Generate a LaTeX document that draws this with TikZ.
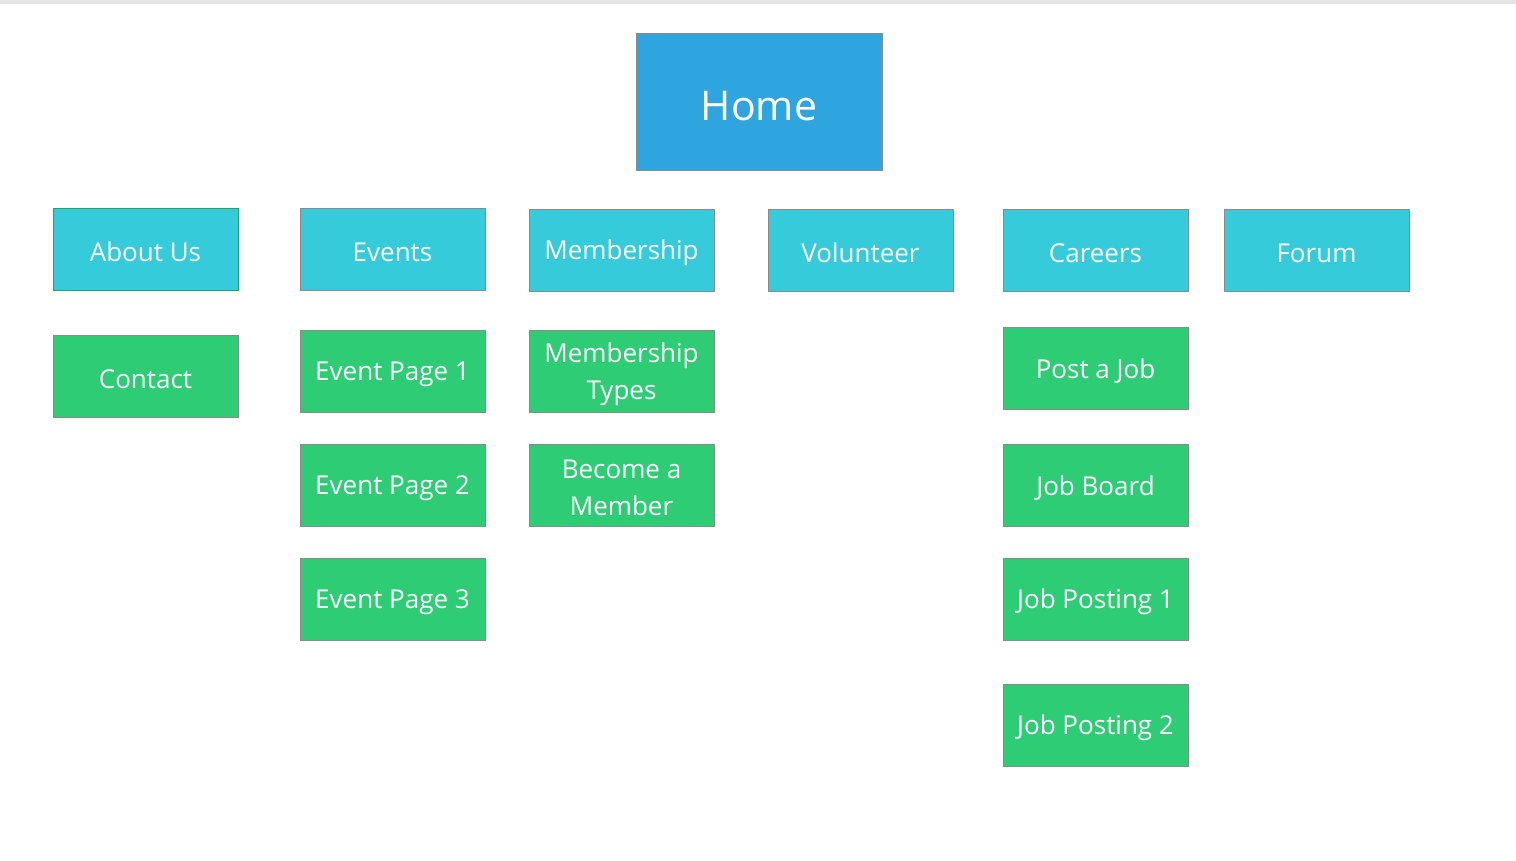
\documentclass[tikz,border=0pt]{standalone}
\usepackage{fontspec}
\setmainfont{Open Sans}
\definecolor{homeblue}{HTML}{2EA5DF}
\definecolor{cyanbox}{HTML}{36CBDB}
\definecolor{greenbox}{HTML}{2ECC74}
\definecolor{edgegray}{HTML}{8A8A8A}
\definecolor{topband}{HTML}{E3E3E3}
\begin{document}
\begin{tikzpicture}[x=1pt,y=-1pt,
  boxtext/.style={text=white,align=center,inner sep=0pt,yshift=-3pt,font=\fontsize{26}{37}\selectfont},
  hometext/.style={boxtext,yshift=-2pt,font=\fontsize{41}{48}\selectfont},
  box/.style={rectangle,draw=edgegray,line width=0.8pt,minimum width=185pt,minimum height=82pt,inner sep=0pt},
  topbox/.style={box,fill=cyanbox},
  subbox/.style={box,fill=greenbox},
  homebox/.style={box,fill=homeblue,minimum width=246pt,minimum height=137pt}]
\useasboundingbox (0,0) rectangle (1516,860);
\fill[topband] (0,0) rectangle (1516,4);
\node[homebox,label={[hometext]center:Home}] (home) at (759,101.5) {};
\node[topbox,draw=greenbox!80!black,label={[boxtext]center:About Us}] (about) at (145.5,249) {};
\node[topbox,label={[boxtext]center:Events}] (events) at (392.5,249) {};
\node[topbox,label={[boxtext]center:Membership}] (member) at (621.5,250) {};
\node[topbox,label={[boxtext]center:Volunteer}] (volunteer) at (860.5,250) {};
\node[topbox,label={[boxtext]center:Careers}] (careers) at (1095.5,250) {};
\node[topbox,label={[boxtext]center:Forum}] (forum) at (1316.5,250) {};
\node[subbox,label={[boxtext]center:Contact}] (contact) at (145.5,376) {};
\node[subbox,label={[boxtext]center:Event Page 1}] (ep1) at (392.5,371) {};
\node[subbox,label={[boxtext]center:Event Page 2}] (ep2) at (392.5,485) {};
\node[subbox,label={[boxtext]center:Event Page 3}] (ep3) at (392.5,599) {};
\node[subbox,label={[boxtext]center:Membership\\Types}] (mtypes) at (621.5,371) {};
\node[subbox,label={[boxtext]center:Become a\\Member}] (become) at (621.5,485) {};
\node[subbox,label={[boxtext]center:Post a Job}] (post) at (1095.5,368) {};
\node[subbox,label={[boxtext]center:Job Board}] (board) at (1095.5,485) {};
\node[subbox,label={[boxtext]center:Job Posting 1}] (jp1) at (1095.5,599) {};
\node[subbox,label={[boxtext]center:Job Posting 2}] (jp2) at (1095.5,725) {};
\end{tikzpicture}
\end{document}
